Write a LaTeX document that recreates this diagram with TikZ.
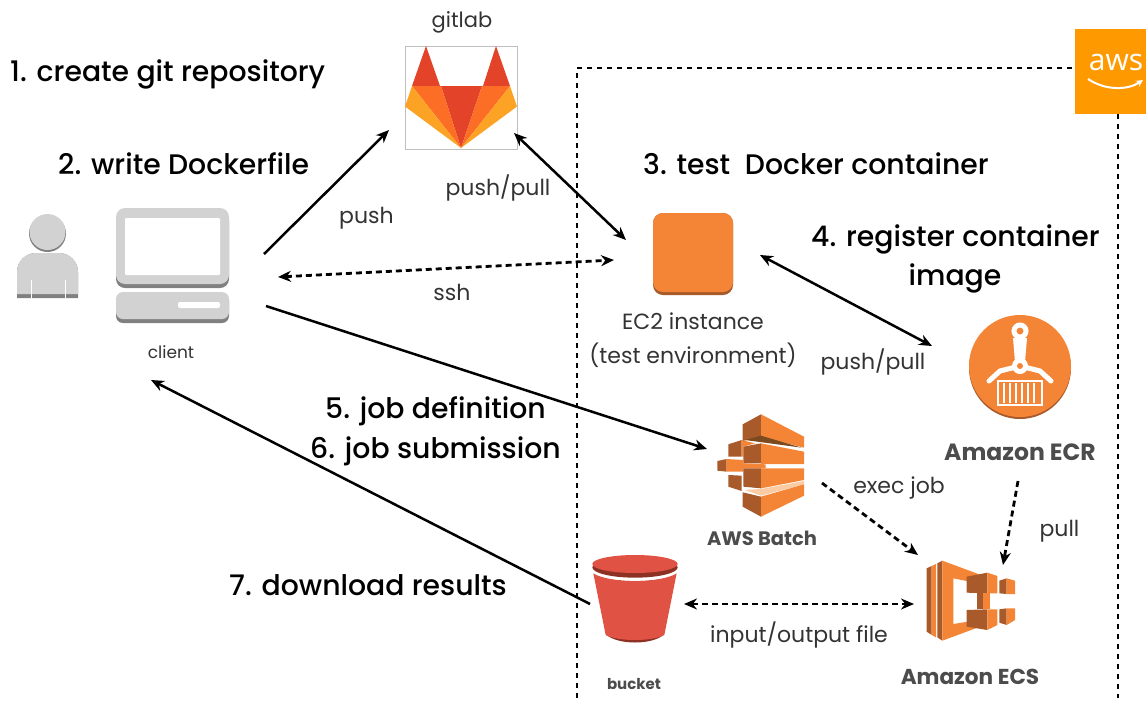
\documentclass[tikz,border=0pt]{standalone}
\usepackage{fontspec}
\usetikzlibrary{arrows.meta}
\setmainfont{Poppins}
\newfontfamily\stepfont{Poppins Medium}
\newfontfamily\logofont{Open Sans}
\definecolor{awsorange}{HTML}{F58536}
\definecolor{awsdark}{HTML}{A85A2A}
\definecolor{awsbrown}{HTML}{7C4A1E}
\definecolor{awspale}{HTML}{FBCBA3}
\definecolor{awslogocol}{HTML}{FF9900}
\definecolor{gitred}{HTML}{E24329}
\definecolor{gitorange}{HTML}{FC6D26}
\definecolor{gityellow}{HTML}{FCA326}
\definecolor{bucketred}{HTML}{E05243}
\definecolor{bucketdark}{HTML}{8C3123}
\definecolor{labgrey}{HTML}{333333}
\definecolor{icongrey}{HTML}{D2D2D2}
\definecolor{iconshade}{HTML}{808080}

\begin{document}
\begin{tikzpicture}[x=1pt,y=-1pt,>={Stealth[length=13pt,width=11pt]},
    icon/.style={inner sep=0pt,outer sep=0pt},
    steptext/.style={font=\stepfont\fontsize{28.3}{32}\selectfont,text=black,inner sep=0pt,yshift=-2.5pt},
    plaintext/.style={font=\fontsize{22}{26}\selectfont,text=labgrey,inner sep=0pt},
    boldname/.style={font=\bfseries\fontsize{21.6}{26}\selectfont,text=black!70,inner sep=0pt},
    solidline/.style={line width=2.5pt,black},
    dotline/.style={line width=2.8pt,black,dash pattern=on 6pt off 4pt},
    boundary/.style={line width=2.6pt,black,dash pattern=on 5pt off 5pt}]
  \useasboundingbox (0,0) rectangle (1146,702);

  % aws boundary
  \draw[boundary] (1072,68) -- (577,68) -- (577,698);
  \draw[boundary] (1118,114) -- (1118,698);
  \node[icon,fill=awslogocol,minimum width=71pt,minimum height=85pt] (awslogo) at (1110.5,71.5) {};
  \node[font=\logofont\fontsize{30}{34}\selectfont,text=white,inner sep=0pt] (awstext) at (1116,62) {aws};
  \draw[white,line width=2pt,-stealth] (1088,79) .. controls (1106,91) and (1128,90) .. (1143,80);

  % nodes, one box for each icon
  \node[icon,draw=gray!50,line width=.8pt,minimum width=112pt,minimum height=103pt] (gitlab) at (461,97.5) {};
  \node[icon,minimum width=114pt,minimum height=116pt] (client) at (172,266) {};
  \node[icon,minimum width=62pt,minimum height=92pt] (user) at (47.5,253) {};
  \node[icon,fill=awsdark,rounded corners=10pt,minimum width=80pt,minimum height=82pt] (ec2) at (693,254) {};
  \node[icon,fill=awsorange,rounded corners=10pt,minimum width=80pt,minimum height=79pt] (ec2top) at (693,252.5) {};
  \node[icon,minimum width=102pt,minimum height=106pt] (ecr) at (1020,367) {};
  \node[icon,minimum width=87pt,minimum height=103pt] (batch) at (760.5,465.5) {};
  \node[icon,minimum width=88pt,minimum height=80pt] (ecs) at (971,601) {};
  \node[icon,minimum width=86pt,minimum height=88pt] (bucket) at (635,599) {};

  % gitlab
  \fill[gitred] (426,46) -- (412,86) -- (440,86) -- cycle (496,46) -- (483,86) -- (510,86) -- cycle (441,86) -- (482,86) -- (461,148) -- cycle;
  \fill[gitorange] (412,86) -- (441,86) -- (461,148) -- cycle (482,86) -- (510,86) -- (461,148) -- cycle;
  \fill[gityellow] (412,86) -- (405,106.5) -- (461,148) -- cycle (510,86) -- (517,106.5) -- (461,148) -- cycle;

  % user
  \fill[iconshade] (47.5,233.5) circle (18.5);
  \fill[icongrey] (47.5,232) circle (18);
  \fill[iconshade] (17,298) -- (17,272) arc (180:270:19) -- (59,253) arc (270:360:19) -- (78,298) -- cycle;
  \fill[icongrey] (17,294) -- (17,272) arc (180:270:19) -- (59,253) arc (270:360:19) -- (78,294) -- cycle;
  \draw[white,line width=1pt] (31,280) -- (31,298) (65,280) -- (65,298);

  % client
  \fill[iconshade,rounded corners=9pt] (116,212) rectangle (229,288);
  \fill[icongrey,rounded corners=9pt] (116,208) rectangle (229,284);
  \fill[white,rounded corners=1pt] (125,218) rectangle (220,275);
  \fill[iconshade,rounded corners=7pt] (116,294) rectangle (229,323);
  \fill[icongrey,rounded corners=7pt] (116,292) rectangle (229,319);
  \fill[white,rounded corners=2pt] (178,302) rectangle (220,308);

  % ecr
  \fill[awsdark] (1020,368) circle (51);
  \fill[awsorange] (1020,366) circle (51);
  \draw[white,line width=5pt] (1020,331) circle (6);
  \fill[white] (1013,338) -- (1027,338) -- (1025,362) -- (1015,362) -- cycle;
  \draw[white,line width=5pt,line cap=round] (989,381) -- (1000,371) -- (1020,366) -- (1040,371) -- (1051,381);
  \fill[white] (1020,366) circle (8);
  \fill[awsorange] (1020,366) circle (3);
  \draw[white,line width=1.5pt] (998,381) rectangle (1042,405);
  \foreach \slat in {1004,1010,...,1036}
    \draw[white,line width=1.8pt] (\slat,383) -- (\slat,403);

  % batch
  \begin{scope}[shift={(700,405)},scale=1/3]
    \fill[awsdark] (128,58) -- (183,28) -- (183,95) -- (128,108) -- cycle;
    \fill[awsorange] (183,28) -- (312,95) -- (312,128) -- (183,95) -- cycle;
    \fill[awsbrown] (135,105) -- (183,92) -- (305,128) -- cycle;
    \fill[awsdark] (85,118) -- (125,105) -- (125,155) -- (85,155) -- cycle;
    \fill[awsorange] (125,105) -- (165,115) -- (130,125) -- (130,155) -- (125,155) -- cycle;
    \fill[awsdark] (130,125) -- (183,115) -- (183,175) -- (130,175) -- cycle;
    \fill[awsorange] (183,115) -- (312,140) -- (312,177) -- (183,177) -- cycle;
    \fill[awsdark] (52,168) -- (80,162) -- (80,200) -- (52,197) -- cycle;
    \fill[awsorange] (80,162) -- (130,165) -- (130,175) -- (197,178) -- (197,190) -- (130,190) -- (130,200) -- (80,200) -- cycle;
    \fill[awsdark] (85,210) -- (125,212) -- (125,258) -- (85,245) -- cycle;
    \fill[awsdark] (130,190) -- (183,190) -- (183,250) -- (130,245) -- cycle;
    \fill[awsorange] (183,190) -- (312,190) -- (312,225) -- (183,250) -- cycle;
    \fill[awspale] (135,255) -- (183,252) -- (312,228) -- (312,238) -- (183,272) -- cycle;
    \fill[awsdark] (128,262) -- (183,275) -- (183,335) -- (128,305) -- cycle;
    \fill[awsorange] (183,275) -- (312,238) -- (312,272) -- (183,335) -- cycle;
  \end{scope}

  % ecs
  \begin{scope}[shift={(910,550)},scale=1/3]
    \fill[awsdark] (50,55) -- (65,48) -- (65,255) -- (50,245) -- cycle;
    \fill[awsorange] (65,48) -- (78,42) -- (78,262) -- (65,255) -- cycle;
    \fill[awsdark] (82,40) -- (97,32) -- (97,272) -- (82,262) -- cycle;
    \fill[awsorange] (97,32) -- (205,72) -- (205,100) -- (130,85) -- (130,222) -- (205,210) -- (205,232) -- (97,272) -- cycle;
    \fill[awsdark] (170,80) -- (232,68) -- (232,130) -- (170,128) -- cycle;
    \fill[awsorange] (232,68) -- (262,78) -- (262,130) -- (232,130) -- cycle;
    \fill[awsdark] (268,92) -- (290,85) -- (290,132) -- (268,130) -- cycle;
    \fill[awsorange] (290,85) -- (315,92) -- (315,132) -- (290,132) -- cycle;
    \fill[awsdark] (200,130) rectangle (220,178);
    \fill[awsorange] (220,130) rectangle (240,178);
    \fill[awsdark] (170,180) -- (232,178) -- (232,240) -- (170,230) -- cycle;
    \fill[awsorange] (232,178) -- (262,178) -- (262,225) -- (232,240) -- cycle;
    \fill[awsdark] (268,178) -- (290,175) -- (290,225) -- (268,218) -- cycle;
    \fill[awsorange] (290,175) -- (315,175) -- (315,210) -- (290,225) -- cycle;
  \end{scope}

  % bucket
  \begin{scope}[shift={(575,540)},scale=1/3]
    \fill[bucketdark] (95,285) .. controls (130,315) and (230,315) .. (265,285) -- (270,270) -- (90,270) -- cycle;
    \fill[bucketred] (55,100) .. controls (100,130) and (260,130) .. (305,100) -- (268,285) .. controls (230,305) and (130,305) .. (92,285) -- cycle;
    \draw[white,line width=1.5pt] (55,94) .. controls (100,128) and (260,128) .. (305,94);
    \fill[bucketdark] (180,82) ellipse [x radius=128,y radius=31];
    \fill[bucketred] (180,72) ellipse [x radius=128,y radius=27];
  \end{scope}

  % connectors
  \path[solidline,->]
    ([shift={(35,-12)}]client.east) edge node[plaintext,xshift=40pt,yshift=-26pt] (pushtext) {push} ([shift={(-16,32.5)}]gitlab.west)
    ([shift={(37,40)}]client.east) edge ([shift={(-10,-16.5)}]batch.west)
    ([shift={(-2,5)}]bucket.west) edge ([shift={(-21,56)}]client.south);
  \path[solidline,<->]
    ([shift={(-3,-16)}]gitlab.south east) edge node[plaintext,xshift=-72pt,yshift=-1pt] (syncgit) {push/pull} ([shift={(-27,-14)}]ec2.west)
    ([shift={(27,1)}]ec2.east) edge node[plaintext,xshift=27pt,yshift=-61pt] (syncecr) {push/pull} ([shift={(-37,-21)}]ecr.west);
  \path[dotline,<->]
    ([shift={(49,11)}]client.east) edge node[plaintext,xshift=6pt,yshift=-23.5pt] (sshtext) {ssh} ([shift={(-39,6)}]ec2.west)
    ([shift={(6,5)}]bucket.east) edge node[plaintext,yshift=-31pt] (iotext) {input/output file} ([shift={(-13,3)}]ecs.west);
  \path[dotline,->]
    ([shift={(18,17.5)}]batch.east) edge node[plaintext,xshift=29pt,yshift=31pt] (exectext) {exec job} ([shift={(-9,-6)}]ecs.north west)
    ([shift={(-2,61)}]ecr.south) edge node[plaintext,xshift=49pt,yshift=-8pt] (pulltext) {pull} ([shift={(32,4)}]ecs.north);

  % texts
  \node[plaintext,font=\fontsize{21}{25}\selectfont] (gitlabname) at (462,22) {gitlab};
  \node[plaintext,font=\fontsize{17}{20}\selectfont] (clientname) at (171,352) {client};
  \node[plaintext] (ec2name) at (693,321) {EC2 instance};
  \node[plaintext] (ec2note) at (693,355) {(test environment)};
  \node[boldname,font=\bfseries\fontsize{23.5}{28}\selectfont] (ecrname) at (1020,452) {Amazon ECR};
  \node[boldname,font=\bfseries\fontsize{19.5}{23}\selectfont] (batchname) at (762,538) {AWS Batch};
  \node[boldname] (ecsname) at (970,677) {Amazon ECS};
  \node[boldname,font=\bfseries\fontsize{15}{18}\selectfont] (bucketname) at (634,684) {bucket};
  \node[steptext,anchor=west] (stepone) at (10,72) {1. create git repository};
  \node[steptext,anchor=west] (steptwo) at (58,161) {2. write Dockerfile};
  \node[steptext,anchor=west] (stepthree) at (643,161) {3. test\ \ Docker container};
  \node[steptext,anchor=west] (stepfour) at (811,237) {4. register container};
  \node[steptext] (stepfourb) at (955,276) {image};
  \node[steptext,anchor=west] (stepfive) at (325,409) {5. job definition};
  \node[steptext,anchor=west] (stepsix) at (310,449) {6. job submission};
  \node[steptext,anchor=west] (stepseven) at (229,583) {7. download results};
\end{tikzpicture}
\end{document}
